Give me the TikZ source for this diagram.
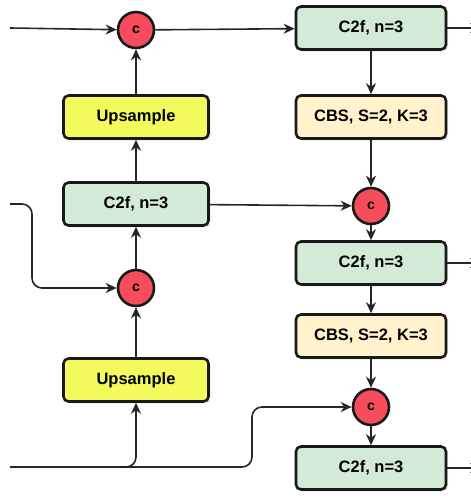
\documentclass[tikz,border=0pt]{standalone}
\usepackage{fontspec}
\setmainfont{Liberation Sans}
\usetikzlibrary{arrows.meta,shadows}

\definecolor{catred}{RGB}{246,76,92}
\definecolor{c2fgreen}{RGB}{211,235,214}
\definecolor{upyellow}{RGB}{242,250,92}
\definecolor{cbscream}{RGB}{255,242,204}

\begin{document}
\begin{tikzpicture}[
        x=1pt, y=-1pt,
        block/.style={
            rectangle,
            rounded corners=5pt,
            draw=black!90,
            line width=2.6pt,
            minimum width=150pt,
            minimum height=43pt,
            inner sep=0pt,
            drop shadow={opacity=0.18, shadow xshift=2pt, shadow yshift=-2pt},
            font=\fontsize{16.5}{19}\selectfont\bfseries
        },
        c2fbox/.style={block, fill=c2fgreen},
        cbsbox/.style={block, fill=cbscream},
        upbox/.style={block, fill=upyellow, minimum width=145pt},
        cat/.style={
            circle,
            draw=black!90,
            fill=catred,
            line width=2.6pt,
            minimum size=36pt,
            inner sep=0pt,
            font=\fontsize{14}{16}\selectfont\bfseries
        },
        link/.style={line width=1.6pt, black!85, -{Stealth[length=11pt,width=10pt,inset=3.5pt]}},
        wire/.style={line width=1.6pt, black!85}
    ]

    \clip (0,0) rectangle (471,498);

    % left column
    \node[cat] (c1) at (136,30) {c};
    \node[upbox] (up1) at (136,117) {Upsample};
    \node[c2fbox, minimum width=145pt] (c2fL) at (136,204) {C2f, n=3};
    \node[cat] (c3) at (136,288) {c};
    \node[upbox] (up2) at (136,380) {Upsample};

    % right column
    \node[c2fbox] (c2fA) at (371,28) {C2f, n=3};
    \node[cbsbox] (cbsA) at (371,117) {CBS, S=2, K=3};
    \node[cat] (c2) at (371,206) {c};
    \node[c2fbox] (c2fB) at (371,263) {C2f, n=3};
    \node[cbsbox] (cbsB) at (371,336) {CBS, S=2, K=3};
    \node[cat] (c4) at (371,407) {c};
    \node[c2fbox] (c2fC) at (371,468) {C2f, n=3};

    % loose ends
    \coordinate (inA) at (10,28);
    \coordinate (inB) at (10,204);
    \coordinate (inC) at (10,467);
    \coordinate (kB) at (32,288);
    \coordinate (kC) at (252,407);
    \coordinate (outA) at (481,28);
    \coordinate (outB) at (481,263);
    \coordinate (outC) at (481,468);

    \draw[link] (inA) -- (c1);
    \draw[link] (c1) -- (c2fA);
    \draw[link] (up1) -- (c1);
    \draw[link] (c2fL) -- (up1);
    \draw[link, rounded corners=10pt] (inB) -| (kB) -- (c3);
    \draw[link] (c3) -- (c2fL);
    \draw[link] (up2) -- (c3);
    \draw[link, rounded corners=10pt] (inC) -| (up2);
    \draw[link, rounded corners=10pt] (inC) -| (kC) -- (c4);

    \draw[link] (c2fA) -- (cbsA);
    \draw[link] (cbsA) -- (c2);
    \draw[link] (c2fL) -- (c2);
    \draw[link] (c2) -- (c2fB);
    \draw[link] (c2fB) -- (cbsB);
    \draw[link] (cbsB) -- (c4);
    \draw[link] (c4) -- (c2fC);

    \draw[link] (c2fA) -- (outA);
    \draw[link] (c2fB) -- (outB);
    \draw[link] (c2fC) -- (outC);

\end{tikzpicture}
\end{document}
